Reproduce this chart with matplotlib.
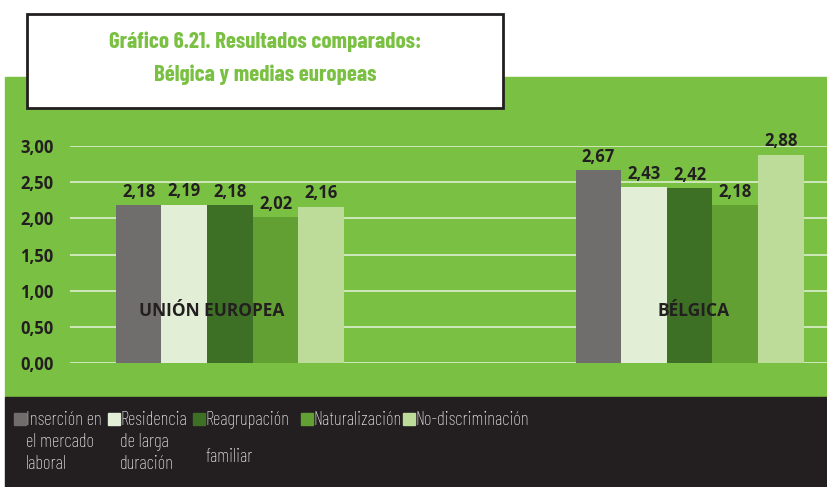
import matplotlib
matplotlib.use("Agg")
import matplotlib.pyplot as plt
import numpy as np
from matplotlib.patches import Rectangle

# chart data
groups = ["UNIÓN EUROPEA", "BÉLGICA"]
series = ["Inserción en\nel mercado\nlaboral", "Residencia\nde larga\nduración",
          "Reagrupación\nfamiliar", "Naturalización", "No-discriminación"]
ue_values = [2.18, 2.19, 2.18, 2.02, 2.16]
be_values = [2.67, 2.43, 2.42, 2.18, 2.88]
yticks = [0.0, 0.5, 1.0, 1.5, 2.0, 2.5, 3.0]

colors = ["#706e6d", "#e2efd6", "#3d7024", "#62a033", "#bddc9a"]
green_bg = "#7ac143"
dark_bg = "#231f20"
txt = "#231f20"

cond = ["Barlow Condensed", "DejaVu Sans"]
bold = ["Open Sans", "DejaVu Sans"]

W, H = 828, 487
fig = plt.figure(figsize=(W / 100, H / 100), dpi=100)
fig.patch.set_facecolor("white")


def px(x, y):
    # pixel (from top-left) -> figure fraction
    return x / W, 1 - y / H


# green panel and dark legend panel
fig.patches.append(Rectangle(px(5, 397), (W - 5) / W, (397 - 77) / H,
                             transform=fig.transFigure, color=green_bg, zorder=0))
fig.patches.append(Rectangle(px(5, H), (W - 5) / W, (H - 397) / H,
                             transform=fig.transFigure, color=dark_bg, zorder=0))
# title box
fig.patches.append(Rectangle(px(27, 108), (503 - 27) / W, (108 - 14) / H,
                             transform=fig.transFigure, facecolor="white",
                             edgecolor="#231f20", lw=2, zorder=1))
fig.text(*px(265, 58), "Gráfico 6.21. Resultados comparados:\nBélgica y medias europeas",
         ha="center", va="center", color=green_bg, fontsize=16.5, fontweight="bold",
         family=cond, linespacing=1.75, zorder=2)

# axes
ax = fig.add_axes([70 / W, 1 - 363 / H, (W - 70) / W, (363 - 146) / H])
ax.set_facecolor("none")
ax.set_zorder(2)

n = len(series)
bw = 0.0993
x = np.arange(len(groups))
for i in range(n):
    vals = [ue_values[i], be_values[i]]
    pos = x + (i - (n - 1) / 2) * bw
    ax.bar(pos, vals, width=bw, color=colors[i], zorder=3)
    for p, v in zip(pos, vals):
        ax.text(p, v + 0.06, f"{v:.2f}".replace(".", ","), ha="center", va="bottom",
                fontsize=12, fontweight="bold", color=txt, family=bold, zorder=4)

ax.set_xlim(-0.348, 1.301)
ax.set_ylim(0, 3.0)
ax.set_yticks(yticks)
ax.set_yticklabels([f"{t:.2f}".replace(".", ",") for t in yticks],
                   fontsize=12, fontweight="bold", color=txt, family=bold)
ax.tick_params(axis="y", length=0, pad=12)
ax.set_xticks([])
ax.grid(axis="y", color="#d6ebc4", lw=1.3, zorder=1)
ax.set_axisbelow(True)
for s in ax.spines.values():
    s.set_visible(False)

for gx, name in zip([x[0] - 0.04, x[1] + 0.008], groups):
    ax.text(gx, 0.72, name, ha="center", va="center", fontsize=12.5, fontweight="bold",
            color=txt, family=bold, zorder=5)

# legend
sq_x = [14, 108, 193, 301, 403]
for i in range(n):
    fig.patches.append(Rectangle(px(sq_x[i], 425), 12 / W, 12 / H,
                                 transform=fig.transFigure, color=colors[i], zorder=2))
    ls = 2.35 if i == 2 else 1.27
    fig.text(*px(sq_x[i] + 12, 411), series[i], ha="left", va="top", color="white",
             fontsize=13.5, fontweight="light", family=cond, linespacing=ls, zorder=3)

fig.savefig("out.png", dpi=100, facecolor=fig.get_facecolor())
